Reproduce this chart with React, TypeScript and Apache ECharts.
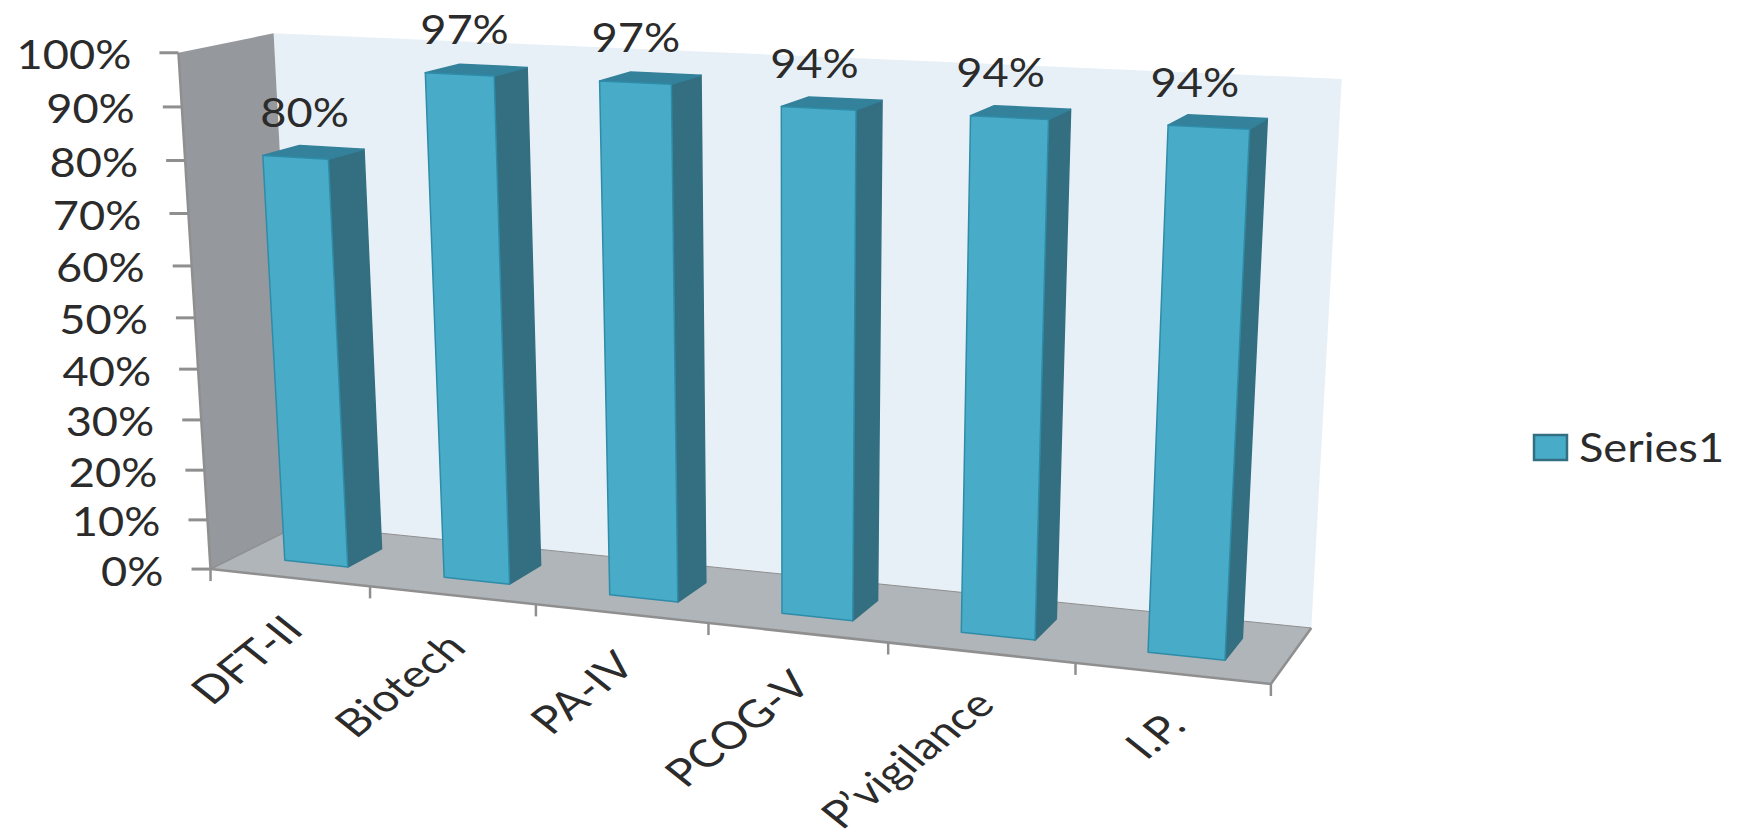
import React, { useEffect, useRef } from "react";
import * as echarts from "echarts";

const categories = ["DFT-II", "Biotech", "PA-IV", "PCOG-V", "P’vigilance", "I.P."];
const values = [80, 97, 97, 94, 94, 94];
const yTicks = [0, 10, 20, 30, 40, 50, 60, 70, 80, 90, 100];
const seriesName = "Series1";

const FONT = "Lato";
const STRETCH = 1.25;
const TEXT_STRETCH = 1.13;
const TEXT = "#2b2b2b";
const C = { front: "#48abc8", side: "#336f80", top: "#33819a", edge: "#2f8ca8", wall: "#95989c", floor: "#b0b5b9", back: "#e8f0f7", tick: "#8f8f8f" };

// Corners of the chart's 3D box as seen in the picture: [X, Y, Z, px, py]
const BOX: number[][] = [
  [0, 0, 0, 208, 568],
  [0, 1, 0, 181, 53],
  [0, 0, 1, 302, 526],
  [0, 1, 1, 271, 33],
  [1, 0, 1, 1311, 627],
  [1, 1, 1, 1342, 79],
  [1, 0, 0, 1271, 685],
];

function solveProjection(box: number[][]) {
  const rows: number[][] = [];
  const rhs: number[] = [];
  for (const [X, Y, Z, pu, pv] of box) {
    const u = pu / 1000, v = pv / 1000;
    rows.push([X, Y, Z, 1, 0, 0, 0, 0, -u * X, -u * Y, -u * Z]); rhs.push(u);
    rows.push([0, 0, 0, 0, X, Y, Z, 1, -v * X, -v * Y, -v * Z]); rhs.push(v);
  }
  const n = 11;
  const A: number[][] = [];
  for (let i = 0; i < n; i++) {
    const r: number[] = [];
    for (let j = 0; j < n; j++) {
      let s = 0;
      rows.forEach((row) => { s += row[i] * row[j]; });
      r.push(s);
    }
    let b = 0;
    rows.forEach((row, k) => { b += row[i] * rhs[k]; });
    r.push(b);
    A.push(r);
  }
  for (let i = 0; i < n; i++) {
    let m = i;
    for (let k = i + 1; k < n; k++) if (Math.abs(A[k][i]) > Math.abs(A[m][i])) m = k;
    [A[i], A[m]] = [A[m], A[i]];
    for (let k = 0; k < n; k++) {
      if (k === i) continue;
      const f = A[k][i] / A[i][i];
      for (let j = i; j <= n; j++) A[k][j] -= f * A[i][j];
    }
  }
  return A.map((r, i) => r[n] / r[i]);
}
const P = solveProjection(BOX);
function proj(X: number, Y: number, Z: number): number[] {
  const w = P[8] * X + P[9] * Y + P[10] * Z + 1;
  return [
    (1000 * (P[0] * X + P[1] * Y + P[2] * Z + P[3])) / w,
    (1000 * (P[4] * X + P[5] * Y + P[6] * Z + P[7])) / w,
  ];
}

const BAR_Z0 = 0.3;
const BAR_Z1 = 0.7;

function norm(api: any, params: any, cat: number, val: number) {
  const cs = params.coordSys;
  const c = api.coord([cat, val]);
  return [(c[0] - cs.x) / cs.width, (cs.y + cs.height - c[1]) / cs.height];
}

function renderBar(params: any, api: any) {
  const i = api.value(0);
  const v = api.value(1);
  const cs = params.coordSys;
  const [xc, yv] = norm(api, params, i, v);
  const half = (api.size([1, 0])[0] / cs.width) * 0.2;
  const x0 = xc - half, x1 = xc + half;
  const poly = (pts: number[][], fill: string, stroke: string) => ({
    type: "polygon",
    shape: { points: pts },
    style: { fill, stroke, lineWidth: 1.5, lineJoin: "round" },
  });
  const anchor = proj(xc, yv, BAR_Z0);
  return {
    type: "group",
    children: [
      poly([proj(x1, 0, BAR_Z0), proj(x1, 0, BAR_Z1), proj(x1, yv, BAR_Z1), proj(x1, yv, BAR_Z0)], C.side, C.side),
      poly([proj(x0, yv, BAR_Z0), proj(x1, yv, BAR_Z0), proj(x1, yv, BAR_Z1), proj(x0, yv, BAR_Z1)], C.top, C.top),
      poly([proj(x0, 0, BAR_Z0), proj(x1, 0, BAR_Z0), proj(x1, yv, BAR_Z0), proj(x0, yv, BAR_Z0)], C.front, C.edge),
      {
        type: "text",
        x: anchor[0] + 9 - 0.025 * (anchor[0] - 296),
        y: anchor[1] - 46,
        scaleX: TEXT_STRETCH,
        style: { text: `${v}%`, fontFamily: FONT, fontSize: 40, fill: TEXT, align: "center", verticalAlign: "middle" },
      },
    ],
  };
}

function renderFrame(params: any, api: any) {
  const corner = (X: number, Y: number, Z: number) => proj(X, Y, Z);
  const poly = (pts: number[][], fill: string) => ({ type: "polygon", shape: { points: pts }, style: { fill } });
  const seg = (a: number[], b: number[], w: number) => ({
    type: "line",
    shape: { x1: a[0], y1: a[1], x2: b[0], y2: b[1] },
    style: { stroke: C.tick, lineWidth: w },
  });
  return {
    type: "group",
    children: [
      poly([corner(0, 0, 1), corner(1, 0, 1), corner(1, 1, 1), corner(0, 1, 1)], C.back),
      poly([corner(0, 0, 0), corner(0, 1, 0), corner(0, 1, 1), corner(0, 0, 1)], C.wall),
      poly([corner(0, 0, 0), corner(1, 0, 0), corner(1, 0, 1), corner(0, 0, 1)], C.floor),
      seg(corner(0, 0, 1), corner(1, 0, 1), 1),
      seg(corner(0, 0, 0), corner(0, 0, 1), 1.5),
      seg(corner(0, 0, 0), corner(0, 1, 0), 2.5),
      seg(corner(0, 0, 0), corner(1, 0, 0), 2.5),
      seg(corner(1, 0, 0), corner(1, 0, 1), 2.5),
    ],
  };
}

function renderYTick(params: any, api: any) {
  const t = api.value(1);
  const [, yv] = norm(api, params, 0, t);
  const p = proj(0, yv, 0);
  return {
    type: "group",
    children: [
      {
        type: "line",
        shape: { x1: p[0] - 19, y1: p[1], x2: p[0], y2: p[1] },
        style: { stroke: C.tick, lineWidth: 3 },
      },
      {
        type: "text",
        x: p[0] - 47,
        y: p[1] + 1,
        scaleX: TEXT_STRETCH,
        style: { text: `${t}%`, fontFamily: FONT, fontSize: 40, fill: TEXT, align: "right", verticalAlign: "middle" },
      },
    ],
  };
}

function renderXTick(params: any, api: any) {
  const i = api.value(0);
  const cs = params.coordSys;
  const [xc] = norm(api, params, i, 0);
  const half = (api.size([1, 0])[0] / cs.width) * 0.5;
  const p = proj(xc, 0, 0);
  const edge = proj(xc + half, 0, 0);
  const tickLine = (q: number[]) => ({
    type: "line",
    shape: { x1: q[0], y1: q[1], x2: q[0], y2: q[1] + 12 },
    style: { stroke: C.tick, lineWidth: 2.5 },
  });
  const children: any[] = [
    tickLine(edge),
    {
      type: "group",
      x: p[0] + 3,
      y: p[1] + 44,
      scaleX: STRETCH,
      children: [
        {
          type: "text",
          rotation: Math.PI / 4,
          style: { text: categories[i], fontFamily: FONT, fontSize: 38, fill: TEXT, align: "right", verticalAlign: "middle" },
        },
      ],
    },
  ];
  if (i === 0) children.push(tickLine(proj(xc - half, 0, 0)));
  return { type: "group", children };
}

export default function App() {
  const ref = useRef<HTMLDivElement>(null);
  useEffect(() => {
    const chart = echarts.init(ref.current!, undefined, { renderer: "svg" });
    chart.setOption({
      animation: false,
      backgroundColor: "#ffffff",
      grid: { left: 200, right: 400, top: 100, bottom: 200 },
      xAxis: { type: "category", data: categories, show: false },
      yAxis: { type: "value", min: 0, max: 100, interval: 10, show: false },
      graphic: [
        {
          type: "rect",
          shape: { x: 1534, y: 435, width: 33, height: 25 },
          style: { fill: C.front, stroke: C.side, lineWidth: 2.5 },
        },
        {
          type: "text",
          x: 1579,
          y: 447,
          scaleX: TEXT_STRETCH,
          style: { text: seriesName, fontFamily: FONT, fontSize: 40, fill: TEXT, align: "left", verticalAlign: "middle" },
        },
      ],
      series: [
        { type: "custom", name: "frame", z: 1, renderItem: renderFrame, data: [[0, 0]], encode: { x: 0, y: 1 }, silent: true },
        { type: "custom", name: "yTicks", z: 2, renderItem: renderYTick, data: yTicks.map((t) => [0, t]), encode: { x: 0, y: 1 }, silent: true },
        { type: "custom", name: "xTicks", z: 2, renderItem: renderXTick, data: categories.map((_, i) => [i, 0]), encode: { x: 0, y: 1 }, silent: true },
        { type: "custom", name: seriesName, z: 3, renderItem: renderBar, data: values.map((v, i) => [i, v]), encode: { x: 0, y: 1 } },
      ],
    });
    return () => chart.dispose();
  }, []);
  return <div ref={ref} style={{ position: "fixed", left: 0, top: 0, width: 1746, height: 839 }} />;
}
